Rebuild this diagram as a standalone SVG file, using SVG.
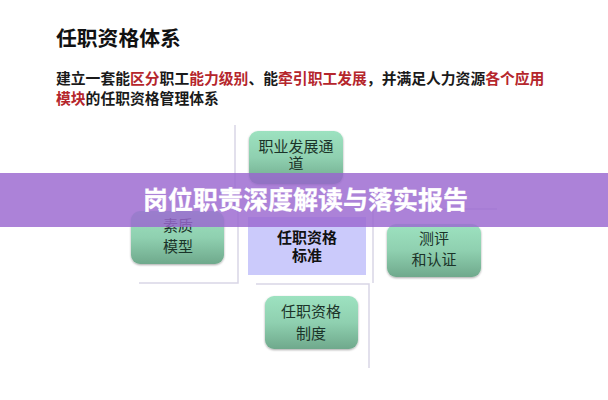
<svg xmlns="http://www.w3.org/2000/svg" width="608" height="400" viewBox="0 0 608 400">
<defs>
<linearGradient id="g" x1="0" y1="0" x2="0" y2="1"><stop offset="0" stop-color="#9de2c0"/><stop offset="0.5" stop-color="#8fd0b0"/><stop offset="1" stop-color="#6fa98c"/></linearGradient>
<filter id="s" x="-10%" y="-10%" width="120%" height="125%"><feGaussianBlur in="SourceAlpha" stdDeviation="1.2"/><feOffset dy="1"/><feComponentTransfer><feFuncA type="linear" slope="0.35"/></feComponentTransfer><feMerge><feMergeNode/><feMergeNode in="SourceGraphic"/></feMerge></filter>
</defs>
<style>
text{font-family:"Noto Sans CJK SC","Liberation Sans",sans-serif}
.n{fill:url(#g);filter:url(#s)}
.l{font-size:15px;fill:#1b3329;text-anchor:middle}
.c{font-size:15px;font-weight:700;fill:#111;text-anchor:middle}
.h{font-size:14.8px;font-weight:700;fill:#1a1a1a}
.r{fill:#b5262c}
.w{fill:none;stroke:#d9d6e6;stroke-width:1.5}
</style>
<rect width="608" height="400" fill="#fff"/>
<text x="56" y="46" font-size="20.8" font-weight="700" fill="#111">任职资格体系</text>
<text class="h" x="56" y="84">建立一套能<tspan class="r">区分</tspan>职工<tspan class="r">能力级别</tspan>、能<tspan class="r">牵引职工发展</tspan>，并满足人力资源<tspan class="r">各个应用</tspan></text>
<text class="h" x="56" y="104"><tspan class="r">模块</tspan>的任职资格管理体系</text>
<g id="connectors">
<path class="w" d="M235 125V210M238 210V283H139"/>
<path class="w" d="M256 284H369V368"/>
<path class="w" d="M373 283V209H497"/>
</g>
<g id="node-top"><rect class="n" x="249" y="131" width="94" height="53" rx="9"/><text class="l" x="296" y="152">职业发展通<tspan x="296" dy="17">道</tspan></text></g>
<g id="node-left"><rect class="n" x="131" y="211" width="93" height="53" rx="9"/><text class="l" x="178" y="231">素质<tspan x="178" dy="21">模型</tspan></text></g>
<g id="node-center"><rect x="248" y="217" width="118" height="58" fill="#cbcafb"/><text class="c" x="307" y="243">任职资格<tspan x="307" dy="18">标准</tspan></text></g>
<g id="node-right"><rect class="n" x="387" y="224" width="94" height="53" rx="9"/><text class="l" x="434" y="244">测评<tspan x="434" dy="21">和认证</tspan></text></g>
<g id="node-bottom"><rect class="n" x="265" y="296" width="93" height="53" rx="9"/><text class="l" x="311" y="317">任职资格<tspan x="311" dy="22">制度</tspan></text></g>
<rect id="band" x="0" y="173" width="608" height="54" fill="#9a66cf" fill-opacity="0.82"/>
<text x="305.500" y="209" font-size="25" font-weight="700" fill="#fff" stroke="#fff" stroke-width="0.3" text-anchor="middle">岗位职责深度解读与落实报告</text>
</svg>
